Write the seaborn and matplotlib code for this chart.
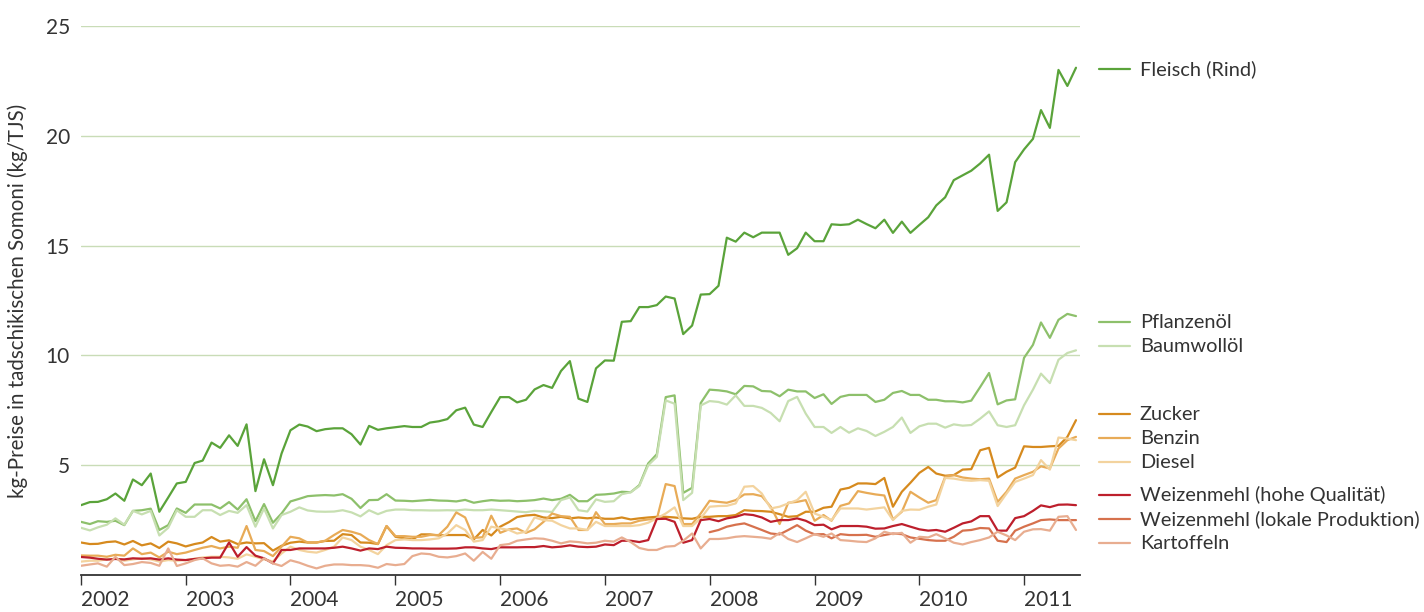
import numpy as np
import pandas as pd
import matplotlib
matplotlib.use("Agg")
import matplotlib.pyplot as plt
import matplotlib.transforms as mtransforms
import seaborn as sns

# Monatswerte Jan 2002 - Jul 2011
MONTHS = pd.date_range("2002-01-01", "2011-07-01", freq="MS")
YEARS = list(range(2002, 2012))

fleisch = [
    3.18, 3.32, 3.33, 3.45, 3.71, 3.38, 4.35, 4.09, 4.62, 2.88, 3.53, 4.17,
    4.24, 5.10, 5.21, 6.03, 5.79, 6.36, 5.88, 6.86, 3.82, 5.27, 4.09, 5.53,
    6.59, 6.85, 6.76, 6.55, 6.64, 6.68, 6.68, 6.41, 5.94, 6.79, 6.61, 6.68,
    6.73, 6.78, 6.74, 6.74, 6.94, 7.00, 7.10, 7.50, 7.62, 6.85, 6.74, 7.42,
    8.10, 8.10, 7.86, 7.98, 8.45, 8.65, 8.52, 9.29, 9.74, 8.03, 7.88, 9.41,
    9.77, 9.76, 11.53, 11.56, 12.20, 12.20, 12.29, 12.68, 12.59, 10.97, 11.36, 12.77,
    12.79, 13.17, 15.36, 15.18, 15.59, 15.38, 15.59, 15.59, 15.59, 14.58, 14.88, 15.59,
    15.20, 15.20, 15.97, 15.94, 15.97, 16.18, 15.98, 15.79, 16.18, 15.58, 16.09, 15.58,
    15.94, 16.29, 16.83, 17.20, 17.98, 18.20, 18.41, 18.74, 19.14, 16.58, 16.97, 18.80,
    19.38, 19.86, 21.17, 20.36, 23.00, 22.27, 23.10,
]
pflanzenoel = [
    2.42, 2.32, 2.45, 2.42, 2.47, 2.27, 2.92, 2.95, 3.02, 2.05, 2.27, 3.03,
    2.83, 3.21, 3.21, 3.21, 3.03, 3.32, 2.98, 3.45, 2.45, 3.23, 2.38, 2.80,
    3.35, 3.47, 3.59, 3.62, 3.64, 3.62, 3.68, 3.47, 3.05, 3.41, 3.42, 3.68,
    3.39, 3.38, 3.36, 3.39, 3.42, 3.39, 3.38, 3.35, 3.42, 3.29, 3.36, 3.41,
    3.38, 3.39, 3.36, 3.38, 3.41, 3.48, 3.41, 3.47, 3.65, 3.36, 3.36, 3.65,
    3.67, 3.71, 3.79, 3.77, 4.09, 5.08, 5.50, 8.10, 8.18, 3.74, 3.97, 7.83,
    8.44, 8.41, 8.36, 8.23, 8.61, 8.59, 8.38, 8.36, 8.14, 8.44, 8.36, 8.36,
    8.06, 8.23, 7.79, 8.11, 8.20, 8.20, 8.20, 7.88, 7.98, 8.29, 8.38, 8.20,
    8.20, 7.98, 7.98, 7.91, 7.91, 7.86, 7.94, 8.56, 9.20, 7.77, 7.95, 8.00,
    9.89, 10.48, 11.50, 10.80, 11.62, 11.89, 11.79,
]
baumwolloel = [
    2.15, 2.03, 2.17, 2.29, 2.58, 2.29, 2.92, 2.76, 2.92, 1.80, 2.15, 2.95,
    2.65, 2.65, 2.95, 2.95, 2.73, 2.92, 2.83, 3.18, 2.20, 3.03, 2.12, 2.73,
    2.88, 3.08, 2.94, 2.89, 2.88, 2.89, 2.95, 2.85, 2.67, 2.95, 2.77, 2.92,
    2.98, 2.98, 2.95, 2.95, 2.94, 2.94, 2.95, 2.94, 2.98, 2.95, 2.95, 2.98,
    2.95, 2.92, 2.89, 2.86, 2.92, 2.90, 2.87, 3.41, 3.53, 2.95, 2.89, 3.44,
    3.33, 3.36, 3.68, 3.77, 4.05, 5.00, 5.38, 7.95, 7.80, 3.41, 3.74, 7.72,
    7.92, 7.88, 7.76, 8.18, 7.70, 7.70, 7.61, 7.38, 7.00, 7.92, 8.11, 7.35,
    6.74, 6.74, 6.47, 6.74, 6.48, 6.68, 6.56, 6.33, 6.52, 6.74, 7.17, 6.47,
    6.77, 6.89, 6.89, 6.71, 6.86, 6.80, 6.83, 7.12, 7.45, 6.82, 6.74, 6.82,
    7.73, 8.44, 9.17, 8.74, 9.80, 10.11, 10.23,
]
zucker = [
    1.48, 1.41, 1.42, 1.50, 1.53, 1.39, 1.55, 1.35, 1.44, 1.23, 1.52, 1.44,
    1.30, 1.41, 1.48, 1.73, 1.52, 1.58, 1.41, 1.48, 1.44, 1.45, 1.11, 1.33,
    1.47, 1.52, 1.48, 1.48, 1.55, 1.56, 1.86, 1.82, 1.48, 1.47, 1.41, 2.23,
    1.74, 1.67, 1.62, 1.85, 1.85, 1.80, 1.82, 1.82, 1.82, 1.62, 2.05, 1.80,
    2.20, 2.41, 2.64, 2.71, 2.74, 2.62, 2.59, 2.65, 2.58, 2.62, 2.58, 2.62,
    2.56, 2.56, 2.62, 2.53, 2.58, 2.62, 2.65, 2.65, 2.62, 2.58, 2.56, 2.65,
    2.65, 2.68, 2.68, 2.73, 2.95, 2.92, 2.91, 2.88, 2.77, 2.65, 2.68, 2.88,
    2.88, 3.06, 3.11, 3.89, 3.97, 4.17, 4.17, 4.14, 4.42, 3.11, 3.79, 4.20,
    4.65, 4.92, 4.62, 4.52, 4.55, 4.80, 4.82, 5.68, 5.79, 4.44, 4.70, 4.89,
    5.86, 5.83, 5.83, 5.86, 5.88, 6.29, 7.05,
]
benzin = [
    0.89, 0.88, 0.88, 0.83, 0.92, 0.88, 1.21, 0.95, 1.02, 0.80, 1.06, 0.95,
    1.02, 1.14, 1.24, 1.32, 1.21, 1.29, 1.24, 2.23, 1.14, 1.09, 0.86, 1.29,
    1.74, 1.67, 1.48, 1.48, 1.56, 1.82, 2.05, 1.97, 1.85, 1.59, 1.41, 2.23,
    1.77, 1.77, 1.74, 1.74, 1.82, 1.82, 2.20, 2.85, 2.62, 1.69, 1.72, 2.70,
    1.92, 2.08, 2.12, 1.92, 2.08, 2.42, 2.80, 2.68, 2.65, 2.05, 2.05, 2.86,
    2.32, 2.32, 2.35, 2.35, 2.47, 2.53, 2.55, 4.14, 4.05, 2.32, 2.32, 2.80,
    3.38, 3.33, 3.29, 3.41, 3.67, 3.68, 3.59, 3.11, 2.32, 3.29, 3.33, 3.41,
    2.47, 2.73, 2.47, 3.15, 3.26, 3.82, 3.74, 3.67, 3.62, 2.53, 2.88, 3.79,
    3.53, 3.29, 3.41, 4.47, 4.55, 4.44, 4.39, 4.36, 4.39, 3.33, 3.79, 4.39,
    4.55, 4.70, 4.95, 4.85, 5.76, 6.14, 6.29,
]
diesel = [
    0.61, 0.65, 0.65, 0.71, 0.74, 0.65, 0.71, 0.76, 0.71, 0.61, 0.68, 0.65,
    0.68, 0.74, 0.80, 0.83, 0.83, 0.80, 0.74, 0.94, 0.83, 0.71, 0.62, 0.98,
    1.29, 1.14, 1.06, 1.02, 1.14, 1.29, 1.71, 1.59, 1.29, 1.14, 0.95, 1.36,
    1.59, 1.62, 1.59, 1.59, 1.62, 1.67, 1.89, 2.27, 2.05, 1.52, 1.59, 2.20,
    2.12, 2.05, 1.89, 1.97, 2.62, 2.50, 2.47, 2.27, 2.12, 2.12, 2.05, 2.42,
    2.23, 2.23, 2.23, 2.23, 2.27, 2.38, 2.58, 2.80, 3.08, 2.23, 2.23, 2.58,
    3.11, 3.14, 3.15, 3.26, 4.02, 4.05, 3.71, 3.03, 3.11, 3.26, 3.41, 3.79,
    2.80, 2.65, 2.50, 3.03, 3.03, 3.03, 2.98, 3.03, 3.08, 2.50, 2.92, 2.98,
    2.97, 3.11, 3.21, 4.42, 4.39, 4.32, 4.29, 4.32, 4.29, 3.14, 3.71, 4.24,
    4.39, 4.55, 5.23, 4.80, 6.26, 6.21, 6.14,
]
weizen_hoch = [
    0.82, 0.79, 0.74, 0.70, 0.73, 0.71, 0.76, 0.74, 0.76, 0.70, 0.76, 0.70,
    0.68, 0.73, 0.76, 0.79, 0.79, 1.48, 0.83, 1.27, 0.88, 0.76, 0.53, 1.14,
    1.14, 1.21, 1.21, 1.21, 1.21, 1.24, 1.29, 1.21, 1.11, 1.21, 1.18, 1.29,
    1.24, 1.23, 1.21, 1.21, 1.20, 1.20, 1.20, 1.21, 1.26, 1.26, 1.21, 1.18,
    1.26, 1.26, 1.26, 1.27, 1.27, 1.32, 1.26, 1.29, 1.35, 1.29, 1.27, 1.29,
    1.39, 1.36, 1.56, 1.56, 1.50, 1.59, 2.55, 2.56, 2.42, 1.47, 1.59, 2.50,
    2.55, 2.45, 2.58, 2.65, 2.77, 2.73, 2.62, 2.42, 2.50, 2.50, 2.58, 2.47,
    2.27, 2.29, 2.08, 2.23, 2.23, 2.23, 2.20, 2.11, 2.12, 2.23, 2.32, 2.20,
    2.08, 2.02, 2.05, 1.97, 2.15, 2.35, 2.44, 2.68, 2.68, 2.02, 2.02, 2.59,
    2.68, 2.92, 3.17, 3.09, 3.20, 3.21, 3.18,
]
weizen_lokal = [np.nan] * 72 + [
    1.95, 2.05, 2.20, 2.29, 2.35, 2.20, 2.05, 1.89, 1.85, 2.05, 2.27, 2.02,
    1.85, 1.86, 1.67, 1.86, 1.82, 1.82, 1.83, 1.74, 1.82, 1.89, 1.86, 1.71,
    1.65, 1.59, 1.56, 1.56, 1.74, 2.02, 2.05, 2.14, 2.12, 1.56, 1.50, 2.02,
    2.20, 2.35, 2.50, 2.53, 2.50, 2.50, 2.50,
]
kartoffeln = [
    0.42, 0.48, 0.53, 0.38, 0.83, 0.45, 0.50, 0.59, 0.55, 0.42, 1.21, 0.41,
    0.53, 0.68, 0.76, 0.53, 0.42, 0.45, 0.38, 0.59, 0.42, 0.76, 0.53, 0.41,
    0.67, 0.56, 0.42, 0.30, 0.42, 0.48, 0.48, 0.45, 0.45, 0.42, 0.33, 0.50,
    0.45, 0.50, 0.86, 0.98, 0.95, 0.83, 0.80, 0.86, 0.98, 0.65, 1.05, 0.74,
    1.36, 1.41, 1.56, 1.62, 1.67, 1.65, 1.56, 1.44, 1.53, 1.50, 1.44, 1.47,
    1.56, 1.52, 1.71, 1.50, 1.23, 1.14, 1.14, 1.29, 1.32, 1.56, 1.89, 1.21,
    1.64, 1.64, 1.67, 1.74, 1.77, 1.74, 1.71, 1.65, 1.92, 1.64, 1.50, 1.67,
    1.86, 1.74, 1.89, 1.59, 1.56, 1.52, 1.50, 1.67, 1.97, 1.86, 1.92, 1.47,
    1.74, 1.71, 1.86, 1.67, 1.47, 1.39, 1.50, 1.59, 1.71, 1.97, 1.80, 1.59,
    1.97, 2.08, 2.09, 2.02, 2.65, 2.68, 2.05,
]

PRODUKTE = [
    "Fleisch (Rind)", "Pflanzenöl", "Baumwollöl", "Zucker", "Benzin", "Diesel",
    "Weizenmehl (hohe Qualität)", "Weizenmehl (lokale Produktion)", "Kartoffeln",
]
FARBEN = [
    "#5aa33a", "#8dc06b", "#c7dfb1", "#d68a1e", "#e8ab57", "#f3d39e",
    "#bd1f2c", "#d6714d", "#e8ad90",
]
# Position der Beschriftungen rechts (in Datenwerten)
LABEL_Y = [23.05, 11.5, 10.41, 7.32, 6.23, 5.14, 3.64, 2.55, 1.45]

TEXT = "#333333"


def main():
    reihen = [fleisch, pflanzenoel, baumwolloel, zucker, benzin, diesel,
              weizen_hoch, weizen_lokal, kartoffeln]
    frames = []
    for name, werte in zip(PRODUKTE, reihen):
        assert len(werte) == len(MONTHS), name
        frames.append(pd.DataFrame({"Monat": MONTHS, "Preis": werte, "Produkt": name}))
    df = pd.concat(frames, ignore_index=True).dropna()

    sns.set_theme(style="white")
    plt.rcParams["font.family"] = ["Lato", "DejaVu Sans"]

    fig = plt.figure(figsize=(14.24, 6.12), dpi=100)
    ax = fig.add_axes([81 / 1424, 1 - 575 / 612, 999 / 1424, 549 / 612])

    sns.lineplot(data=df, x="Monat", y="Preis", hue="Produkt", hue_order=PRODUKTE,
                 palette=FARBEN, linewidth=1.6, estimator=None, legend=False, ax=ax)

    ax.set_ylim(0, 25)
    ax.set_xlim(pd.Timestamp("2002-01-01"), pd.Timestamp("2011-07-15"))
    ax.set_yticks([5, 10, 15, 20, 25])
    ax.set_yticklabels(["5", "10", "15", "20", "25"], fontsize=15, color=TEXT)
    ax.yaxis.grid(True, color="#c9dcb7", linewidth=1)
    ax.xaxis.grid(False)

    ticks = [pd.Timestamp(f"{y}-01-01") for y in YEARS]
    ax.set_xticks(ticks)
    ax.set_xticklabels([str(y) for y in YEARS], fontsize=15, color=TEXT, ha="left")
    ax.tick_params(axis="x", direction="out", length=7, width=1, color=TEXT, pad=4, bottom=True)
    ax.tick_params(axis="y", length=0, pad=8)

    for s in ["left", "top", "right"]:
        ax.spines[s].set_visible(False)
    ax.spines["bottom"].set_color(TEXT)
    ax.spines["bottom"].set_linewidth(1.3)

    ax.set_xlabel("")
    ax.set_ylabel("kg-Preise in tadschikischen Somoni (kg/TJS)", fontsize=14.8, color=TEXT)
    ax.yaxis.set_label_coords(-0.053, 0.5)

    # Beschriftung rechts
    trans = mtransforms.blended_transform_factory(ax.transAxes, ax.transData)
    for name, farbe, yv in zip(PRODUKTE, FARBEN, LABEL_Y):
        ax.plot([1.019, 1.050], [yv, yv], transform=trans, color=farbe,
                linewidth=1.6, clip_on=False)
        ax.text(1.060, yv, name, transform=trans, va="center", ha="left",
                fontsize=14.4, color=TEXT)

    fig.savefig("out.png", dpi=100)


if __name__ == "__main__":
    main()
